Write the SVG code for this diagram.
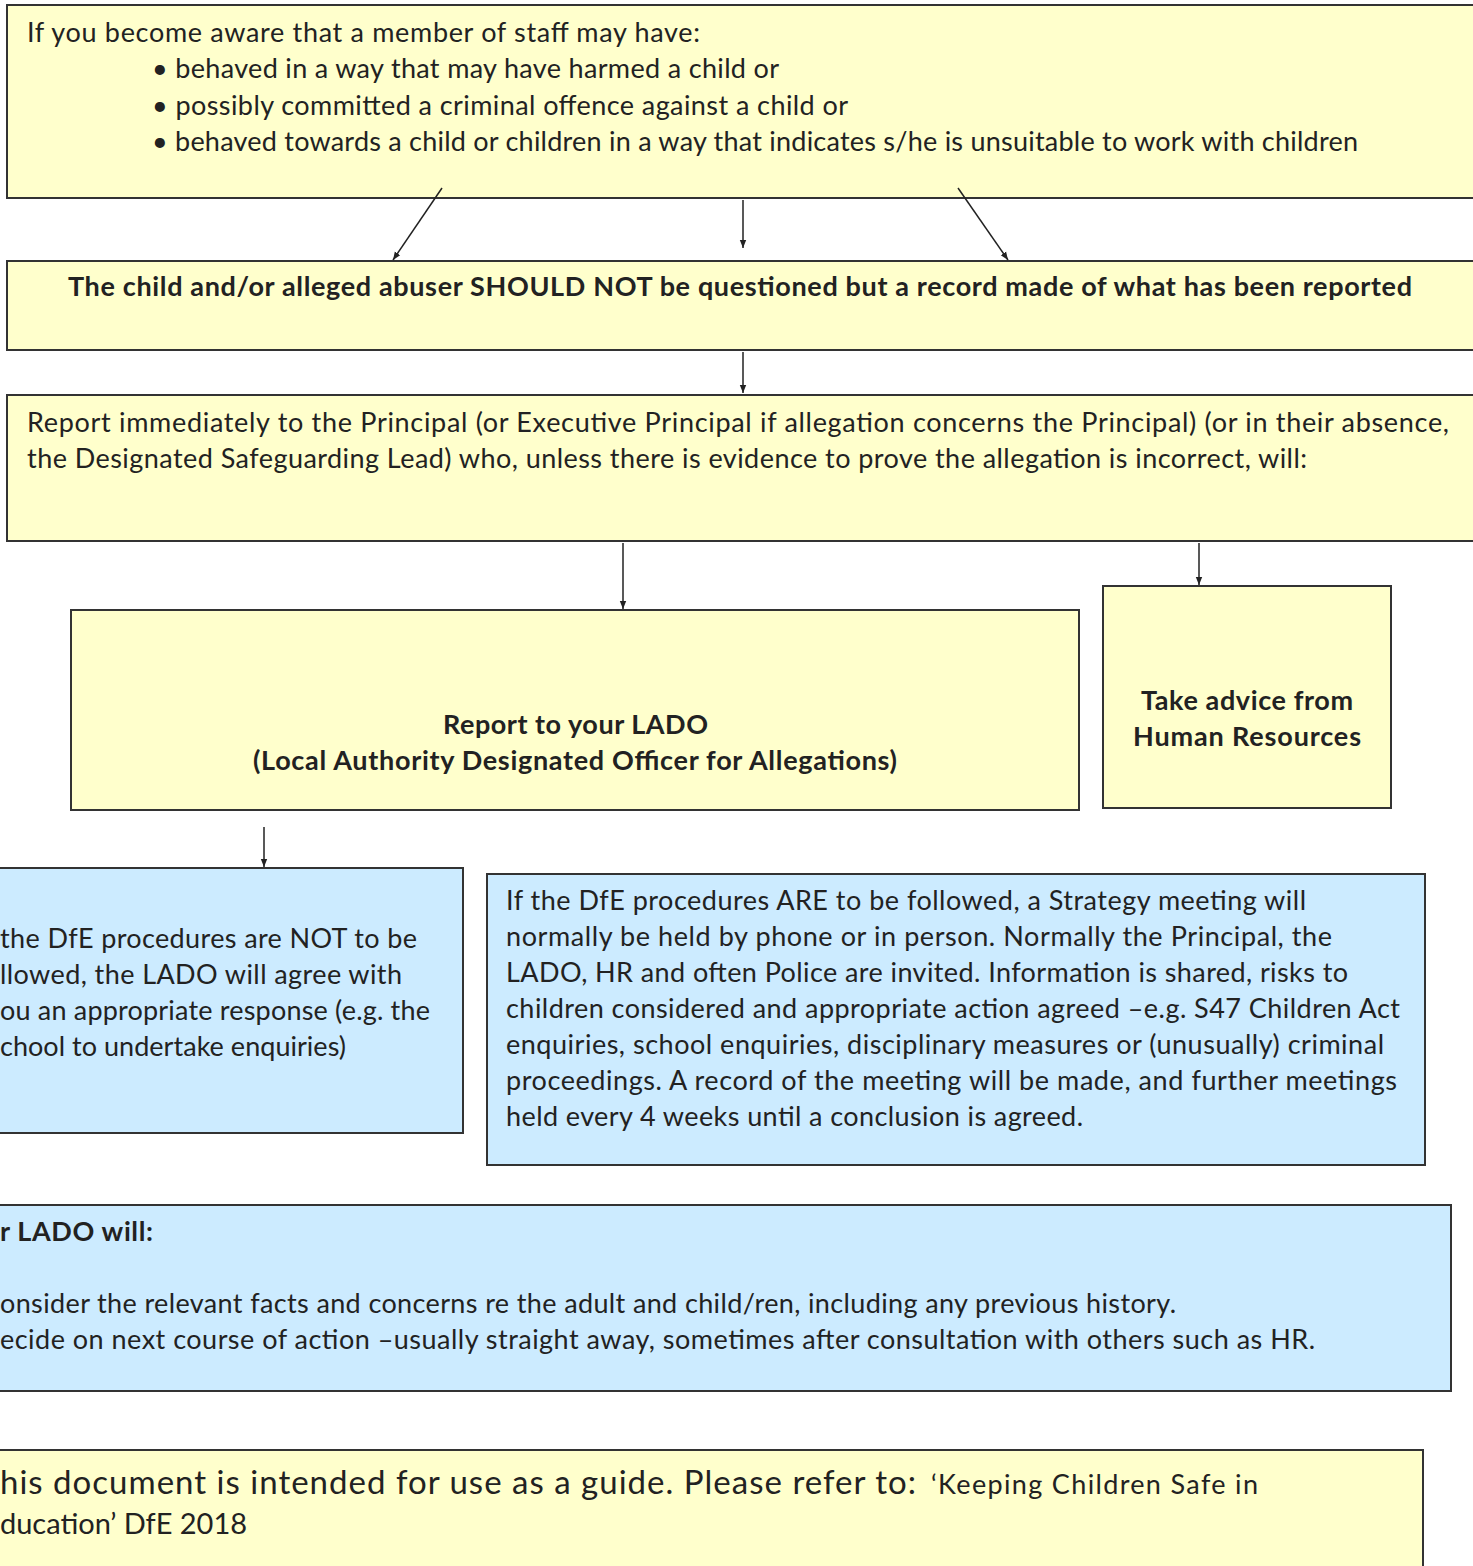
<svg xmlns="http://www.w3.org/2000/svg" width="1473" height="1566" viewBox="0 0 1473 1566">
<style>
.y{fill:#FFFFCC;stroke:#333;stroke-width:2}
.b{fill:#CCEBFF;stroke:#333;stroke-width:2}
text{font-family:Lato,"Open Sans","Liberation Sans",sans-serif;font-size:27px;fill:#222}
.bd{font-weight:bold}
.c{stroke:#222;stroke-width:1.5;fill:none;marker-end:url(#ah)}
</style>
<defs>
<marker id="ah" viewBox="0 0 10 10" refX="10" refY="5" markerWidth="8" markerHeight="8" orient="auto" markerUnits="userSpaceOnUse">
<path d="M0,1 L10,5 L0,9 z" fill="#222"/>
</marker>
</defs>
<rect width="1473" height="1566" fill="#fff"/>
<g id="n1">
<rect class="y" x="7" y="5" width="1467" height="193"/>
<text x="27" y="42" textLength="673">If you become aware that a member of staff may have:</text>
<text x="152" y="78" textLength="627">• behaved in a way that may have harmed a child or</text>
<text x="152" y="115" textLength="696">• possibly committed a criminal offence against a child or</text>
<text x="152" y="151" textLength="1206">• behaved towards a child or children in a way that indicates s/he is unsuitable to work with children</text>
</g>
<g id="n2">
<rect class="y" x="7" y="261" width="1467" height="89"/>
<text class="bd" x="68" y="296" textLength="1344">The child and/or alleged abuser SHOULD NOT be questioned but a record made of what has been reported</text>
</g>
<g id="n3">
<rect class="y" x="7" y="395" width="1467" height="146"/>
<text x="27" y="432" textLength="1422">Report immediately to the Principal (or Executive Principal if allegation concerns the Principal) (or in their absence,</text>
<text x="27" y="468" textLength="1280">the Designated Safeguarding Lead) who, unless there is evidence to prove the allegation is incorrect, will:</text>
</g>
<g id="n4">
<rect class="y" x="71" y="610" width="1008" height="200"/>
<text class="bd" x="443" y="734" textLength="265">Report to your LADO</text>
<text class="bd" x="253" y="770" textLength="644">(Local Authority Designated Officer for Allegations)</text>
</g>
<g id="n5">
<rect class="y" x="1103" y="586" width="288" height="222"/>
<text class="bd" x="1141" y="710" textLength="212">Take advice from</text>
<text class="bd" x="1133" y="746" textLength="228">Human Resources</text>
</g>
<g id="n6">
<rect class="b" x="-10" y="868" width="473" height="265"/>
<text x="0" y="948" textLength="417">the DfE procedures are NOT to be</text>
<text x="0" y="984" textLength="402">llowed, the LADO will agree with</text>
<text x="0" y="1020" textLength="430">ou an appropriate response (e.g. the</text>
<text x="0" y="1056" textLength="346">chool to undertake enquiries)</text>
</g>
<g id="n7">
<rect class="b" x="487" y="874" width="938" height="291"/>
<text x="506" y="910" textLength="800">If the DfE procedures ARE to be followed, a Strategy meeting will</text>
<text x="506" y="946" textLength="826">normally be held by phone or in person. Normally the Principal, the</text>
<text x="506" y="982" textLength="842">LADO, HR and often Police are invited. Information is shared, risks to</text>
<text x="506" y="1018" textLength="894">children considered and appropriate action agreed –e.g. S47 Children Act</text>
<text x="506" y="1054" textLength="878">enquiries, school enquiries, disciplinary measures or (unusually) criminal</text>
<text x="506" y="1090" textLength="891">proceedings. A record of the meeting will be made, and further meetings</text>
<text x="506" y="1126" textLength="577">held every 4 weeks until a conclusion is agreed.</text>
</g>
<g id="n8">
<rect class="b" x="-10" y="1205" width="1461" height="186"/>
<text class="bd" x="0" y="1241" textLength="153">r LADO will:</text>
<text x="0" y="1313" textLength="1176">onsider the relevant facts and concerns re the adult and child/ren, including any previous history.</text>
<text x="0" y="1349" textLength="1315">ecide on next course of action –usually straight away, sometimes after consultation with others such as HR.</text>
</g>
<g id="n9">
<rect class="y" x="-10" y="1450" width="1433" height="130"/>
<text x="0" y="1494" style="font-size:33px" textLength="916">his document is intended for use as a guide. Please refer to:</text>
<text x="931" y="1494" textLength="327">‘Keeping Children Safe in</text>
<text x="0" y="1534" style="font-size:29px" textLength="247">ducation’ DfE 2018</text>
</g>
<g id="connectors">
<line class="c" x1="442" y1="188" x2="393" y2="260"/>
<line class="c" x1="743" y1="200" x2="743" y2="248"/>
<line class="c" x1="958" y1="188" x2="1008" y2="260"/>
<line class="c" x1="743" y1="352" x2="743" y2="393"/>
<line class="c" x1="623" y1="543" x2="623" y2="609"/>
<line class="c" x1="1199" y1="543" x2="1199" y2="585"/>
<line class="c" x1="264" y1="827" x2="264" y2="867"/>
</g>
</svg>
